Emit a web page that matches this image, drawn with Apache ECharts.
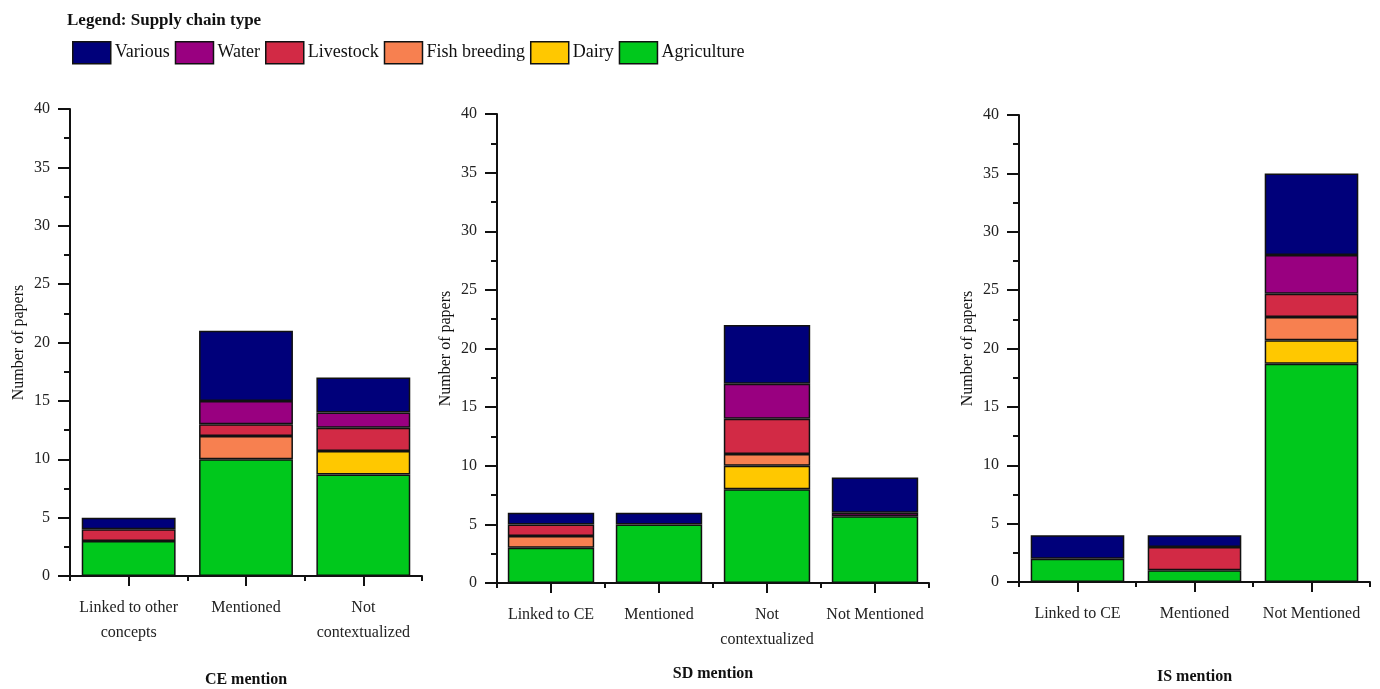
<!DOCTYPE html>
<html>
<head>
<meta charset="utf-8">
<script src="https://cdn.jsdelivr.net/npm/echarts@6/dist/echarts.min.js"></script>
<style>
html,body{margin:0;padding:0;background:#fff;}
#main{width:1380px;height:689px;}
</style>
</head>
<body>
<div id="main"></div>
<script>
// ---- Data ----
const seriesNames = ['Agriculture', 'Dairy', 'Fish breeding', 'Livestock', 'Water', 'Various'];
const legendOrder = ['Various', 'Water', 'Livestock', 'Fish breeding', 'Dairy', 'Agriculture'];

const ceCategories = ['Linked to other\nconcepts', 'Mentioned', 'Not\ncontextualized'];
const ceAgriculture = [3, 10, 8.7];
const ceDairy = [0, 0, 2];
const ceFish = [0, 2, 0];
const ceLivestock = [1, 1, 2];
const ceWater = [0, 2, 1.3];
const ceVarious = [1, 6, 3];

const sdCategories = ['Linked to CE', 'Mentioned', 'Not\ncontextualized', 'Not Mentioned'];
const sdAgriculture = [3, 5, 8, 5.7];
const sdDairy = [0, 0, 2, 0];
const sdFish = [1, 0, 1, 0];
const sdLivestock = [1, 0, 3, 0];
const sdWater = [0, 0, 3, 0.3];
const sdVarious = [1, 1, 5, 3];

const isCategories = ['Linked to CE', 'Mentioned', 'Not Mentioned'];
const isAgriculture = [2, 1, 18.7];
const isDairy = [0, 0, 2];
const isFish = [0, 0, 2];
const isLivestock = [0, 2, 2];
const isWater = [0, 0, 3.3];
const isVarious = [2, 1, 7];

const yTicks = { min: 0, max: 40, interval: 5 };
const panelTitles = ['CE mention', 'SD mention', 'IS mention'];
const yAxisTitle = 'Number of papers';

// ---- Styles ----
const colors = {
  'Agriculture': '#00c81c',
  'Dairy': '#ffc800',
  'Fish breeding': '#f78050',
  'Livestock': '#d22a45',
  'Water': '#990080',
  'Various': '#00007a'
};
const FONT = '"Liberation Serif", "DejaVu Serif", serif';

const panels = [
  { cats: ceCategories, data: [ceAgriculture, ceDairy, ceFish, ceLivestock, ceWater, ceVarious],
    grid: { left: 70, right: 958, top: 109, bottom: 113 }, titleGap: 96 },
  { cats: sdCategories, data: [sdAgriculture, sdDairy, sdFish, sdLivestock, sdWater, sdVarious],
    grid: { left: 497, right: 451, top: 114, bottom: 106 }, titleGap: 83 },
  { cats: isCategories, data: [isAgriculture, isDairy, isFish, isLivestock, isWater, isVarious],
    grid: { left: 1019, right: 10, top: 115, bottom: 107 }, titleGap: 87 }
];

const grids = [], xAxes = [], yAxes = [], series = [];
panels.forEach((p, gi) => {
  grids.push(Object.assign({ containLabel: false, outerBoundsMode: 'none' }, p.grid));
  // Axis with labels and center ticks
  xAxes.push({
    type: 'category', gridIndex: gi, data: p.cats, position: 'bottom',
    axisLine: { show: true, lineStyle: { color: '#111', width: 2 } },
    axisTick: { show: true, alignWithLabel: true, length: 10, lineStyle: { color: '#111', width: 2 } },
    axisLabel: { color: '#222', fontFamily: FONT, fontSize: 16, lineHeight: 25, margin: 19, interval: 0 },
    name: panelTitles[gi], nameLocation: 'middle', nameGap: p.titleGap,
    nameTextStyle: { fontFamily: FONT, fontSize: 16, fontWeight: 'bold', color: '#111' },
    splitLine: { show: false }
  });
  // Overlay axis for boundary ticks
  xAxes.push({
    type: 'category', gridIndex: gi, data: p.cats, position: 'bottom',
    axisLine: { show: false },
    axisTick: { show: true, alignWithLabel: false, length: 5, lineStyle: { color: '#111', width: 2 } },
    axisLabel: { show: false },
    splitLine: { show: false }
  });
  yAxes.push({
    type: 'value', gridIndex: gi, min: yTicks.min, max: yTicks.max, interval: yTicks.interval,
    axisLine: { show: true, lineStyle: { color: '#111', width: 2 } },
    axisTick: { show: true, length: 12, lineStyle: { color: '#111', width: 2 } },
    minorTick: { show: true, splitNumber: 2, length: 6, lineStyle: { color: '#111', width: 2 } },
    axisLabel: { color: '#222', fontFamily: FONT, fontSize: 16, margin: 20 },
    splitLine: { show: false },
    name: yAxisTitle, nameLocation: 'middle', nameGap: 43,
    nameTextStyle: { fontFamily: FONT, fontSize: 16, color: '#111' }
  });
  seriesNames.forEach((name, si) => {
    series.push({
      name: name, type: 'bar', stack: 'panel' + gi,
      xAxisIndex: gi * 2, yAxisIndex: gi,
      barWidth: '80%',
      data: p.data[si].map(v => v === 0 ? '-' : v),
      itemStyle: { color: colors[name], borderColor: '#111', borderWidth: 1.5 },
      emphasis: { disabled: true }
    });
  });
});

const chart = echarts.init(document.getElementById('main'), null, { renderer: 'canvas' });
chart.setOption({
  animation: false,
  backgroundColor: '#fff',
  title: {
    text: 'Legend: Supply chain type', left: 62, top: 7,
    textStyle: { fontFamily: FONT, fontSize: 17, fontWeight: 'bold', color: '#111' }
  },
  legend: {
    data: legendOrder, left: 67, top: 36, itemWidth: 38, itemHeight: 22, itemGap: 5,
    icon: 'rect',
    textStyle: { fontFamily: FONT, fontSize: 18, color: '#111', padding: [0, 0, 0, -1] },
    itemStyle: { borderColor: '#111', borderWidth: 1.5 }
  },
  grid: grids,
  xAxis: xAxes,
  yAxis: yAxes,
  series: series
});
</script>
</body>
</html>
